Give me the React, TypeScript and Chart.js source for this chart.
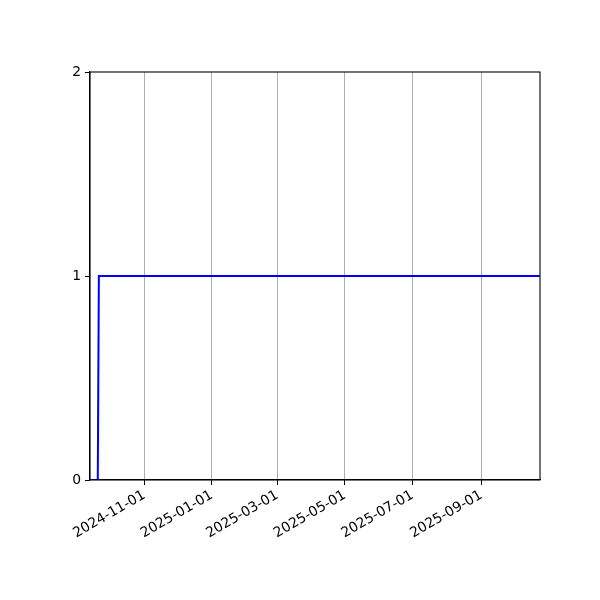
import { useEffect, useRef } from "react";
import { Chart, registerables, ChartConfiguration, Plugin } from "chart.js";

Chart.register(...registerables);

const dates = ["2024-09-13", "2024-09-20", "2024-09-21", "2025-10-24"];
const values = [0, 0, 1, 1];
const xTickDates = ["2024-11-01", "2025-01-01", "2025-03-01", "2025-05-01", "2025-07-01", "2025-09-01"];
const yTicks = [0, 1, 2];

const DAY = 86400000;
const toDay = (s: string) => {
  const [y, m, d] = s.split("-").map(Number);
  return Date.UTC(y, m - 1, d) / DAY;
};
const fmtDay = (v: number) => new Date(Math.round(v) * DAY).toISOString().slice(0, 10);

// draws the top and right spines like matplotlib
const framePlugin: Plugin<"line"> = {
  id: "frame",
  afterDatasetsDraw(chart) {
    const { ctx, chartArea: a } = chart;
    ctx.save();
    ctx.strokeStyle = "#000";
    ctx.lineWidth = 1.1;
    ctx.strokeRect(a.left, a.top, a.right - a.left, a.bottom - a.top);
    ctx.restore();
  },
};

export default function App() {
  const canvasRef = useRef<HTMLCanvasElement | null>(null);

  useEffect(() => {
    if (!canvasRef.current) return;
    const font = { family: "DejaVu Sans", size: 13.9 };
    const config: ChartConfiguration<"line"> = {
      type: "line",
      data: {
        datasets: [
          {
            data: dates.map((d, i) => ({ x: toDay(d), y: values[i] })),
            borderColor: "#0000ff",
            borderWidth: 2,
            pointRadius: 0,
            tension: 0,
          },
        ],
      },
      options: {
        animation: false,
        responsive: false,
        layout: { padding: { top: 72, right: 60, left: 0, bottom: 0 } },
        plugins: { legend: { display: false }, tooltip: { enabled: false } },
        scales: {
          x: {
            type: "linear",
            min: toDay(dates[0]),
            max: toDay(dates[dates.length - 1]),
            afterBuildTicks: (scale) => {
              scale.ticks = xTickDates.map((d) => ({ value: toDay(d) }));
            },
            afterFit: (scale) => {
              scale.height = 120;
            },
            ticks: {
              callback: (v) => fmtDay(Number(v)),
              minRotation: 30,
              maxRotation: 30,
              autoSkip: false,
              color: "#000",
              font,
              padding: 2,
            },
            grid: {
              color: "#b0b0b0",
              lineWidth: 1,
              tickColor: "#000",
              tickLength: 5,
            },
            border: { color: "#000", width: 1.1 },
          },
          y: {
            type: "linear",
            min: 0,
            max: 2,
            afterBuildTicks: (scale) => {
              scale.ticks = yTicks.map((v) => ({ value: v }));
            },
            afterFit: (scale) => {
              scale.width = 90;
            },
            ticks: { color: "#000", font, padding: 4 },
            grid: {
              drawOnChartArea: false,
              tickColor: "#000",
              tickLength: 5,
            },
            border: { color: "#000", width: 1.1 },
          },
        },
      },
      plugins: [framePlugin],
    };
    const chart = new Chart(canvasRef.current, config);
    return () => chart.destroy();
  }, []);

  return (
    <div style={{ position: "fixed", left: 0, top: 0, width: 600, height: 600, background: "#fff" }}>
      <canvas ref={canvasRef} width={600} height={600} style={{ width: 600, height: 600 }} />
    </div>
  );
}
